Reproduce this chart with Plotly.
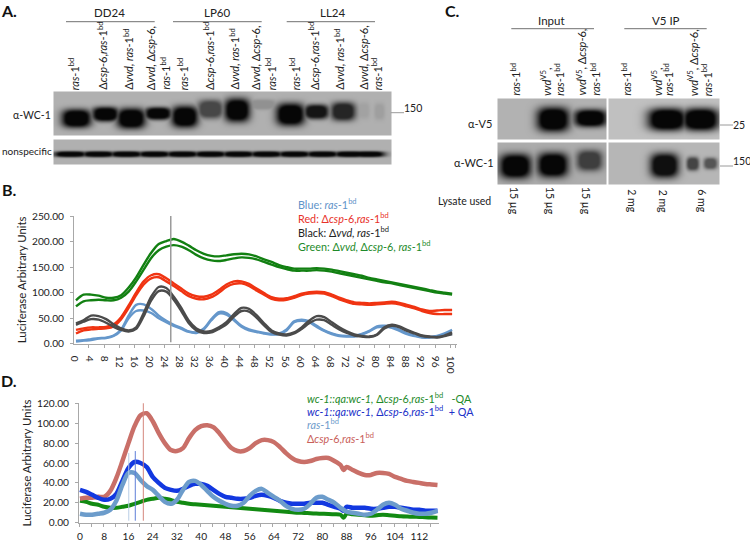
import numpy as np
import plotly.graph_objects as go

W, H = 750, 541
FONT = "Lato"

# ---------- Panel B data (hours, luciferase units; each strain has two replicates)
B_HOURS = list(range(0, 101, 2))
B_XLABELS = list(range(0, 101, 4))
B_YTICKS = [0, 50, 100, 150, 200, 250]
B_GREEN_1 = [85, 96, 96, 94, 90, 90, 95, 110, 130, 155,
             178, 195, 201, 205, 200, 192, 183, 176, 172, 171,
             173, 175, 176, 175, 171, 165, 160, 154, 150, 147,
             147, 147, 148, 147, 145, 142, 139, 136, 133, 129,
             126, 123, 120, 117, 114, 111, 108, 105, 102, 100, 98]
B_GREEN_2 = [73, 83, 85, 86, 85, 85, 90, 102, 122, 145,
             168, 183, 190, 193, 190, 183, 174, 167, 163, 162,
             164, 167, 169, 168, 165, 160, 155, 150, 146, 143,
             143, 143, 144, 143, 141, 138, 135, 132, 129, 126,
             123, 120, 118, 115, 112, 109, 106, 103, 100, 98, 96]
B_RED_1 = [27, 30, 32, 32, 33, 38, 52, 75, 100, 122,
           134, 136, 128, 118, 108, 98, 93, 92, 96, 105,
           116, 122, 122, 117, 108, 99, 91, 88, 89, 93,
           98, 101, 102, 101, 96, 90, 85, 81, 80, 79,
           80, 81, 82, 80, 76, 72, 67, 64, 65, 66, 66]
B_RED_2 = [20, 26, 28, 29, 30, 34, 48, 70, 95, 116,
           128, 130, 122, 113, 103, 93, 88, 87, 91, 100,
           111, 117, 118, 113, 104, 96, 88, 85, 86, 90,
           95, 98, 99, 98, 93, 87, 82, 78, 77, 76,
           77, 78, 79, 77, 73, 69, 64, 60, 58, 58, 58]
B_BLACK_1 = [40, 46, 55, 54, 48, 38, 30, 26, 32, 60,
             92, 111, 109, 92, 70, 45, 30, 24, 25, 32,
             42, 58, 70, 68, 56, 40, 26, 20, 18, 22,
             32, 45, 54, 52, 42, 32, 24, 18, 15, 14,
             18, 32, 37, 34, 27, 21, 16, 14, 13, 16, 22]
B_BLACK_2 = [37, 43, 48, 47, 41, 33, 27, 24, 29, 54,
             85, 103, 102, 86, 64, 40, 26, 21, 22, 29,
             38, 53, 64, 63, 51, 36, 23, 18, 16, 20,
             29, 40, 47, 46, 37, 28, 21, 16, 14, 13,
             17, 30, 35, 32, 25, 20, 15, 13, 12, 15, 19]
B_BLUE_1 = [6, 7, 9, 11, 12, 16, 28, 55, 76, 77,
            68, 55, 45, 37, 31, 24, 22, 30, 48, 62,
            60, 48, 35, 28, 24, 21, 19, 20, 28, 44,
            47, 44, 35, 26, 20, 16, 15, 15, 19, 25,
            34, 35, 33, 27, 20, 16, 13, 13, 15, 20, 27]
B_BLUE_2 = [4, 6, 7, 10, 11, 15, 26, 50, 64, 65,
            60, 50, 42, 35, 29, 23, 21, 28, 46, 59,
            57, 46, 33, 26, 23, 20, 18, 19, 26, 42,
            45, 42, 33, 25, 19, 15, 14, 14, 18, 24,
            32, 33, 31, 25, 19, 15, 12, 12, 14, 17, 19]
B_MARK_X = [25.2, 25.2]
B_MARK_Y = [3, 250]

# ---------- Panel D data
D_HOURS = list(range(0, 87, 2)) + [87] + list(range(88, 119, 2))
D_XLABELS = list(range(0, 113, 8))
D_YTICKS = [0, 20, 40, 60, 80, 100, 120]
D_GREEN = [22, 21, 19, 18, 16, 15, 15, 16, 17, 19,
           21, 23, 24, 25, 24, 23, 21, 20, 19, 18.5,
           18, 17.5, 17, 16.5, 16, 15.5, 15, 14.5, 14, 13.5,
           13, 12.5, 12, 11.5, 11, 10.5, 10, 9.8, 9.5, 9.2,
           9, 8.8, 8.5, 8, 5, 9, 8.5, 8, 7.5, 7,
           7.5, 8, 7.5, 7, 6.5, 6.2, 6, 5.8, 5.5, 5.2, 5]
D_BLUE = [33, 31, 28, 25, 23, 24, 29, 42, 55, 61,
          60, 56, 46, 40, 35, 33, 32, 34, 37, 39,
          39, 37, 33, 29, 26, 25, 24, 24, 25, 27,
          28, 27, 25, 22, 20, 19, 19, 19, 20, 20,
          20, 18, 16, 14, 12, 16, 15, 15, 15, 14,
          14, 15, 16, 16, 15, 14, 13, 13, 12, 12, 12]
D_LIGHT = [9, 8, 8, 9, 10, 13, 22, 38, 50, 50,
           43, 37, 33, 27, 21, 19, 23, 33, 41, 42,
           38, 32, 26, 22, 19, 17, 17, 20, 27, 32,
           34, 30, 26, 22, 17, 14, 13, 14, 19, 25,
           26, 23, 20, 15, 13, 11, 10, 9, 8, 9,
           13, 18, 20, 18, 14, 12, 10, 9, 9, 10, 12]
D_RED = [24, 25, 25, 26, 26, 32, 45, 62, 80, 97,
         108, 110, 102, 90, 80, 73, 72, 75, 85, 93,
         97, 98, 96, 90, 82, 75, 72, 72, 75, 80,
         83, 83, 81, 76, 70, 65, 62, 61, 62, 64,
         65, 65, 62, 58, 53, 56, 53, 50, 48, 48,
         50, 50, 49, 46, 44, 42, 41, 40, 39, 38.5, 38]
D_MARK_RED_X, D_MARK_RED_Y = [20.9, 20.9], [2, 127]
D_MARK_BLUE_X, D_MARK_BLUE_Y = [18.25, 18.25], [2, 72]
D_MARK_LIGHT_X, D_MARK_LIGHT_Y = [16.1, 16.1], [2, 70]

# ---------- Blots: background gray, then lane band readings (centre x, half width, centre y, half height, darkness)
WC1_A_BOX = (54, 391, 92, 135, 176)
WC1_A_BANDS = [(76, 14.5, 118, 9, 1), (105, 13, 113.7, 7, 1), (130.7, 14, 118, 10, 1),
               (157.7, 13, 113, 6, 1), (184.3, 13, 116.3, 10.5, 1), (210, 12.5, 108.7, 9, .62),
               (236.7, 12.5, 109.7, 11.5, 1), (261.7, 15, 104, 5, .18), (290, 14, 114, 11, 1),
               (316, 12, 111.3, 7, .92), (342.7, 12, 111, 9, .82), (363, 6, 110, 8, .08), (379, 5, 111, 8, .1)]
NONSPEC_BOX = (54, 391, 140, 164, 176)
NONSPEC_BANDS = [(x, 16, 153.7, 2.8, 1) for x in (70, 98, 126, 154, 182, 210, 238, 266, 294, 322, 350, 368)]
V5_IN_BOX = (498, 606, 99, 139, 178)
V5_IN_BANDS = [(552.7, 16, 119, 12, 1), (590, 16, 117.7, 8.5, 1)]
V5_IP_BOX = (609, 719, 99, 139, 192)
V5_IP_BANDS = [(666.7, 19, 119, 11, 1), (700, 18, 119, 11, 1)]
WC1_IN_BOX = (498, 606, 143, 184, 172)
WC1_IN_BANDS = [(515, 15.5, 165.7, 12, 1), (552.3, 15, 164.5, 12, 1), (589, 12.5, 160, 10, .66)]
WC1_IP_BOX = (609, 719, 143, 184, 182)
WC1_IP_BANDS = [(664, 14, 165, 12, .95), (692.3, 6, 163.3, 6.5, .65), (710, 6.5, 163, 5.5, .55)]

fig = go.Figure()

AXP = dict(showline=True, linecolor="#a8a8a8", linewidth=1, ticks="outside", tickcolor="#a8a8a8",
           ticklen=3, showgrid=False, zeroline=False, tickfont=dict(family=FONT, size=10.2, color="#222222"),
           fixedrange=True)


def line(x, y, color, width, name, axes):
    fig.add_trace(go.Scatter(x=x, y=y, mode="lines", name=name, cliponaxis=False, showlegend=False,
                             line=dict(color=color, width=width, shape="spline", smoothing=0.8),
                             xaxis=axes[0], yaxis=axes[1]))


def mark(x, y, color, width, axes):
    fig.add_trace(go.Scatter(x=x, y=y, mode="lines", cliponaxis=False, showlegend=False, hoverinfo="skip",
                             line=dict(color=color, width=width), xaxis=axes[0], yaxis=axes[1]))


B = ("x", "y")
for y, c in [(B_GREEN_1, "#128012"), (B_GREEN_2, "#128012"), (B_RED_1, "#f03412"), (B_RED_2, "#f03412"),
             (B_BLUE_1, "#6597cb"), (B_BLUE_2, "#6597cb"), (B_BLACK_1, "#4b4b4b"), (B_BLACK_2, "#4b4b4b")]:
    line(B_HOURS, y, c, 2.4, "", B)
mark(B_MARK_X, B_MARK_Y, "#9a9a9a", 1.5, B)

D = ("x2", "y2")
line(D_HOURS, D_GREEN, "#128a12", 4, "wc-1::qa:wc-1 -QA", D)
line(D_HOURS, D_RED, "#c96f68", 4.5, "csp-6", D)
line(D_HOURS, D_BLUE, "#1238e0", 4.5, "wc-1::qa:wc-1 +QA", D)
line(D_HOURS, D_LIGHT, "#6c9ccb", 4.5, "ras-1", D)
mark(D_MARK_LIGHT_X, D_MARK_LIGHT_Y, "#b9cde6", 1, D)
mark(D_MARK_BLUE_X, D_MARK_BLUE_Y, "#5f7fd8", 1, D)
mark(D_MARK_RED_X, D_MARK_RED_Y, "#d5867c", 1, D)


def blot(box, bands):
    x0, x1, y0, y1, bg = box
    xs = np.arange(x0, x1 + 1)
    ys = np.arange(y0, y1 + 1)
    X, Y = np.meshgrid(xs, ys)
    cover = np.zeros(X.shape)
    for cx, hw, cy, hh, d in bands:
        sat = 1.5 * np.exp(-np.abs((X - cx) / hw) ** 3) * np.exp(-np.abs((Y - cy) / hh) ** 3)
        cover = np.maximum(cover, d * np.minimum(sat, 1))
    z = np.round(bg * (1 - cover) + 6 * cover).tolist()
    fig.add_trace(go.Heatmap(x0=x0, dx=1, y0=y0, dy=1, z=z, zmin=0, zmax=255, zsmooth="best", showscale=False,
                             colorscale=[[0, "#000000"], [1, "#ffffff"]], hoverinfo="skip",
                             xaxis="x3", yaxis="y3"))


for box, bands in [(WC1_A_BOX, WC1_A_BANDS), (NONSPEC_BOX, NONSPEC_BANDS), (V5_IN_BOX, V5_IN_BANDS),
                   (V5_IP_BOX, V5_IP_BANDS), (WC1_IN_BOX, WC1_IN_BANDS), (WC1_IP_BOX, WC1_IP_BANDS)]:
    blot(box, bands)

# Text placed on the full-page overlay axes
RAS = "<i>ras</i>-1<sup>bd</sup>"
CSP = "Δ<i>csp</i>-6,<i>ras</i>-1<sup>bd</sup>"
VVD = "Δ<i>vvd, ras</i>-1<sup>bd</sup>"
VC = "Δ<i>vvd, </i>Δ<i>csp</i>-6,"
V5 = "<i>vvd</i><sup>V5</sup>,"
V5C = "<i>vvd</i><sup>V5</sup>, Δ<i>csp</i>-6,"


def txt(x, y, s, size=11.5, color="#222222", xa="center", ya="middle", angle=0):
    fig.add_annotation(x=x, y=y, text=s, xref="x3", yref="y3", showarrow=False, xanchor=xa, yanchor=ya,
                       textangle=angle, borderpad=0, font=dict(family=FONT, size=size, color=color))


for x, y, s in [(9, 10, "A."), (9, 189, "B."), (452.5, 10, "C."), (9, 380.5, "D.")]:
    txt(x, y, f"<b>{s}</b>", size=16, color="#111111")

for x, s in [(109, "DD24"), (216.7, "LP60"), (332, "LL24")]:
    txt(x, 12.7, s, size=11.5)
for x, s in [(73.7, RAS), (101.7, CSP), (128.3, VVD), (150.3, VC), (165, RAS),
             (182.7, RAS), (208, CSP), (234, VVD), (255, VC), (270.7, RAS),
             (294.7, RAS), (313, CSP), (339.3, VVD), (362.7, VC), (376.7, RAS)]:
    txt(x, 91, s, size=11, xa="center", ya="bottom", angle=-90)
txt(32, 115, "α-WC-1", size=10.5)
txt(27, 151, "nonspecific", size=10)
txt(403, 107.7, "150", size=10.5, xa="left")

txt(551.7, 20.7, "Input", size=11.5)
txt(665.7, 20.7, "V5 IP", size=11.5)
for x, s in [(515, RAS), (545, V5), (559.3, RAS), (581, V5C), (595, RAS),
             (626, RAS), (656, V5), (668.3, RAS), (692.7, V5C), (706.7, RAS)]:
    txt(x, 97, s, size=11, ya="bottom", angle=-90)
txt(493.3, 123.3, "α-V5", size=11, xa="right")
txt(495, 162.7, "α-WC-1", size=11, xa="right")
txt(732, 125, "25", size=10.5, xa="left")
txt(732, 161, "150", size=10.5, xa="left")
txt(492.3, 201, "Lysate used", size=10.5, xa="right")
for x, s in [(514, "15 µg"), (550, "15 µg"), (586, "15 µg"), (631.7, "2 mg"), (663.3, "2 mg"), (701.7, "6 mg")]:
    txt(x, 201, s, size=10.5, angle=90)

for y, s, c in [(204, f"Blue: {RAS}", "#5f93c9"), (217.7, f"Red: {CSP}", "#e8322a"),
                (232, f"Black: {VVD}", "#222222"), (245.7, f"Green: {VC} {RAS}", "#1e8a2a")]:
    txt(296.5, y, s, size=10.8, color=c, xa="left")
WQ = "<i>wc-1::qa:wc-1,</i> "
for y, s, c in [(397.7, f"{WQ}{CSP}   -QA", "#1e8a2a"), (411, f"{WQ}{CSP}  + QA", "#2030c8"),
                (424.3, RAS, "#6f9ccb"), (437.7, CSP, "#c9605a")]:
    txt(305.5, y, s, size=10.8, color=c, xa="left")


def hline(x0, x1, y, color="#707070", width=1):
    fig.add_shape(type="line", xref="x3", yref="y3", x0=x0, x1=x1, y0=y, y1=y, line=dict(color=color, width=width))


for a, b in [(66, 154.7), (173, 261.7), (286.7, 375)]:
    hline(a, b, 21.7)
for a, b in [(511.3, 594), (624.3, 706.7)]:
    hline(a, b, 28.7)
hline(390.7, 404, 112.7, "#9a9a9a")
hline(720, 733, 125, "#9a9a9a")
hline(720, 733, 166, "#9a9a9a")


def dom(a, b, size):
    return [a / size, b / size]


B_MINOR = [t - 0.55 for t in range(0, 101, 4)] + [100.9]
D_MINOR = [t - 0.33 for t in range(0, 117, 4)]
TITLE_FONT = dict(family=FONT, size=11.4, color="#222222")
fig.update_layout(
    width=W, height=H, autosize=False, margin=dict(l=0, r=0, t=0, b=0, pad=0, autoexpand=False), showlegend=False,
    paper_bgcolor="white", plot_bgcolor="rgba(0,0,0,0)", font=dict(family=FONT),
    xaxis=dict(AXP, domain=dom(74, 457, W), range=[-0.53, 101.3], tickmode="array", tickvals=B_XLABELS,
               ticks="", minor=dict(tickmode="array", tickvals=B_MINOR, ticks="outside", ticklen=3,
                                    tickcolor="#a8a8a8", showgrid=False), anchor="y", ticklabelstandoff=4),
    yaxis=dict(AXP, domain=dom(541 - 343.7, 541 - 216, H), range=[0, 250], tickmode="array", tickvals=B_YTICKS,
               tickformat=".2f", anchor="x", ticklabelstandoff=4,
               title=dict(text="Luciferase Arbitrary Units", standoff=3, font=TITLE_FONT)),
    xaxis2=dict(AXP, domain=dom(79, 439, W), range=[-0.33, 118.5], tickmode="array", tickvals=D_XLABELS,
                ticks="", minor=dict(tickmode="array", tickvals=D_MINOR, ticks="outside", ticklen=3,
                                     tickcolor="#a8a8a8", showgrid=False), anchor="y2", ticklabelstandoff=4),
    yaxis2=dict(AXP, domain=dom(541 - 522.7, 541 - 403.3, H), range=[0, 120], tickmode="array", tickvals=D_YTICKS,
                tickformat=".2f", anchor="x2", ticklabelstandoff=4,
                title=dict(text="Luciferase Arbitrary Units", standoff=3, font=TITLE_FONT)),
    xaxis3=dict(domain=[0, 1], range=[0, W], visible=False, fixedrange=True, anchor="y3"),
    yaxis3=dict(domain=[0, 1], range=[H, 0], visible=False, fixedrange=True, anchor="x3"),
)

fig.write_html("out.html", config=dict(displayModeBar=False),
               post_script="document.body.style.margin='0';document.body.style.overflow='hidden';")
